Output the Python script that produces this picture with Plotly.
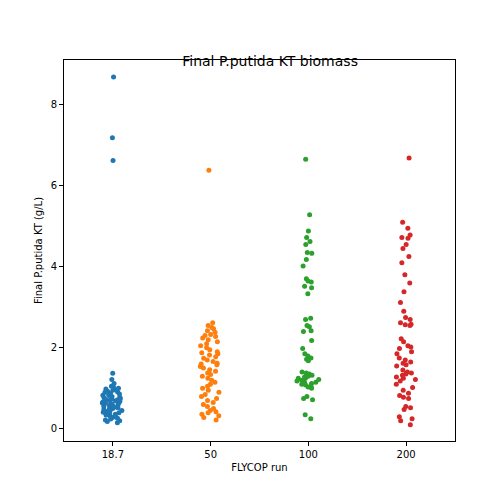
import plotly.graph_objects as go

# FLYCOP runs on the x axis
runs = ["18.7", "50", "100", "200"]
colors = ["#1f77b4", "#ff7f0e", "#2ca02c", "#d62728"]

# final biomass values (g/L)
biomass_187 = [8.68, 7.18, 6.62, 1.37, 1.22, 1.12, 1.05, 1.02, 1.00, 0.98, 0.96, 0.95,
               0.93, 0.91, 0.90, 0.88, 0.86, 0.85, 0.83, 0.82, 0.80, 0.78, 0.77, 0.75,
               0.74, 0.72, 0.70, 0.69, 0.68, 0.66, 0.65, 0.63, 0.62, 0.60, 0.58, 0.57,
               0.55, 0.53, 0.52, 0.50, 0.48, 0.46, 0.45, 0.43, 0.41, 0.40, 0.38, 0.36,
               0.34, 0.32, 0.30, 0.28, 0.26, 0.24, 0.22, 0.20, 0.18, 0.15, 0.72, 0.64,
               0.56, 0.49]
biomass_50 = [6.38, 2.62, 2.55, 2.50, 2.47, 2.42, 2.38, 2.33, 2.28, 2.24, 2.20, 2.15,
              2.10, 2.05, 2.00, 1.95, 1.90, 1.85, 1.82, 1.78, 1.74, 1.70, 1.66, 1.62,
              1.58, 1.54, 1.50, 1.46, 1.42, 1.38, 1.34, 1.30, 1.25, 1.20, 1.15, 1.10,
              1.05, 1.00, 0.95, 0.90, 0.85, 0.80, 0.75, 0.70, 0.65, 0.60, 0.55, 0.50,
              0.45, 0.42, 0.40, 0.36, 0.32, 0.28, 0.22, 1.88, 1.60, 2.30]
biomass_100 = [6.65, 5.28, 4.88, 4.72, 4.62, 4.55, 4.35, 4.33, 4.18, 4.02, 3.70, 3.65,
               3.62, 3.52, 3.48, 3.33, 2.73, 2.70, 2.55, 2.52, 2.42, 2.40, 2.18, 1.98,
               1.85, 1.80, 1.75, 1.72, 1.68, 1.40, 1.35, 1.32, 1.30, 1.28, 1.25, 1.22,
               1.20, 1.18, 1.15, 1.12, 1.10, 1.08, 1.05, 1.03, 1.00, 0.80, 0.75, 0.72,
               0.35, 0.25, 1.38, 1.25, 1.15]
biomass_200 = [6.68, 5.10, 4.95, 4.78, 4.72, 4.70, 4.55, 4.45, 4.25, 4.10, 3.80, 3.60,
               3.38, 3.12, 2.90, 2.75, 2.70, 2.62, 2.58, 2.57, 2.55, 2.22, 2.15, 2.05,
               2.02, 1.98, 1.90, 1.85, 1.70, 1.65, 1.62, 1.58, 1.55, 1.45, 1.38, 1.35,
               1.32, 1.28, 1.25, 1.22, 1.18, 1.10, 1.02, 0.95, 0.88, 0.82, 0.78, 0.75,
               0.55, 0.52, 0.48, 0.30, 0.25, 0.20, 0.10, 1.40, 1.75]
groups = [biomass_187, biomass_50, biomass_100, biomass_200]

fig = go.Figure()
for i, (vals, color) in enumerate(zip(groups, colors)):
    fig.add_trace(go.Box(
        x=[i] * len(vals), y=vals,
        boxpoints="all", jitter=1, pointpos=0, width=0.24,
        fillcolor="rgba(0,0,0,0)", line=dict(color="rgba(0,0,0,0)", width=0),
        marker=dict(color=color, size=5),
        showlegend=False,
    ))

axis_style = dict(showline=True, linecolor="black", linewidth=1, mirror=True,
                  ticks="outside", ticklen=4, tickcolor="black", showgrid=False,
                  zeroline=False, tickfont=dict(size=10, color="black"))
fig.update_xaxes(range=[-0.5, 3.5], tickvals=[0, 1, 2, 3], ticktext=runs,
                 title=dict(text="FLYCOP run", font=dict(size=10, color="black"), standoff=4),
                 **axis_style)
fig.update_yaxes(range=[-0.3, 9.1], tickvals=[0, 2, 4, 6, 8],
                 title=dict(text="Final P.putida KT (g/L)", font=dict(size=10, color="black"), standoff=6),
                 **axis_style)
fig.update_layout(
    title=dict(text="Final P.putida KT biomass", x=0.52, xanchor="center",
               y=0.885, yanchor="bottom", font=dict(size=14, color="black")),
    width=504, height=504,
    paper_bgcolor="white", plot_bgcolor="white",
    font=dict(family="DejaVu Sans"),
    margin=dict(l=56, r=57, t=52, b=71),
)
fig.write_html("out.html")
